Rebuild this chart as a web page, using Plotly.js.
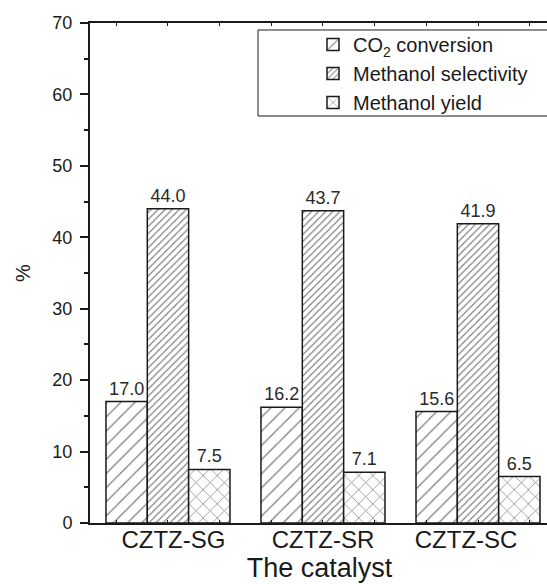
<!DOCTYPE html>
<html>
<head>
<meta charset="utf-8">
<script src="https://cdn.plot.ly/plotly-3.0.1.min.js"></script>
<style>
html, body { margin: 0; padding: 0; overflow: hidden; background: #fff; }
#chart { width: 560px; height: 584px; }
</style>
</head>
<body>
<div id="chart"></div>
<script>
const categories = ["CZTZ-SG", "CZTZ-SR", "CZTZ-SC"];
const co2Conversion = [17.0, 16.2, 15.6];
const methanolSelectivity = [44.0, 43.7, 41.9];
const methanolYield = [7.5, 7.1, 6.5];
const seriesNames = ["CO<sub>2</sub> conversion", "Methanol selectivity", "Methanol yield"];
const yTicks = [0, 10, 20, 30, 40, 50, 60, 70];

const FONT = "Liberation Sans, Arial, Helvetica, sans-serif";
const INK = "#1a1a1a";
const xIdx = categories.map((c, i) => i);
const labelShift = [0.035, 0, -0.077];

function barTrace(name, values, shape, size, solidity) {
  return {
    type: "bar",
    name: name,
    x: xIdx,
    y: values,
    texttemplate: "%{y:.1f}",
    textposition: "outside",
    cliponaxis: false,
    textfont: { family: FONT, size: 18, color: "#2a2a2a" },
    marker: {
      color: "white",
      line: { color: INK, width: 1.5 },
      pattern: { shape: shape, size: size, solidity: solidity, fgcolor: "#000", bgcolor: "white", fillmode: "overlay" }
    },
    hoverinfo: "skip"
  };
}

const data = [
  barTrace(seriesNames[0], co2Conversion, "/", 10, 0.13),
  barTrace(seriesNames[1], methanolSelectivity, "/", 5, 0.24),
  barTrace(seriesNames[2], methanolYield, "x", 10, 0.14)
];

const plotLeft = 90, plotRight = 549, plotTop = 23, plotBottom = 523;
const pxX = v => (v - plotLeft) / (plotRight - plotLeft);
const pxY = v => (plotBottom - v) / (plotBottom - plotTop);

const layout = {
  width: 560,
  height: 584,
  margin: { l: plotLeft, r: 560 - plotRight, t: plotTop, b: 584 - plotBottom, pad: 0 },
  paper_bgcolor: "white",
  plot_bgcolor: "white",
  barmode: "group",
  bargap: 0.2,
  bargroupgap: 0,
  font: { family: FONT, color: INK },
  showlegend: true,
  legend: {
    x: pxX(313), y: pxY(25), xanchor: "left", yanchor: "top",
    bgcolor: "rgba(0,0,0,0)", borderwidth: 0,
    font: { family: FONT, size: 20, color: INK },
    tracegroupgap: 0
  },
  xaxis: {
    range: [-0.503, 2.458],
    tickvals: xIdx.map((i) => i + labelShift[i]),
    ticktext: categories,
    ticks: "",
    tickfont: { family: FONT, size: 24, color: INK },
    ticklabelstandoff: -6,
    showgrid: false,
    zeroline: false,
    showline: true,
    linecolor: INK,
    linewidth: 2,
    mirror: "ticks",
    minor: { dtick: 1 / 3, tick0: 0, ticks: "inside", ticklen: 3, tickwidth: 1, tickcolor: INK },
    title: { text: "The catalyst", font: { family: FONT, size: 27, color: INK }, standoff: 4 },
    automargin: false
  },
  yaxis: {
    range: [0, 70],
    tickvals: yTicks,
    ticks: "outside",
    ticklen: 8,
    tickwidth: 2,
    tickcolor: INK,
    tickfont: { family: FONT, size: 18, color: INK },
    ticklabelstandoff: 4,
    minor: { dtick: 5, ticks: "outside", ticklen: 4, tickwidth: 2, tickcolor: INK },
    showgrid: false,
    zeroline: false,
    showline: true,
    linecolor: INK,
    linewidth: 2,
    title: { text: "%", font: { family: FONT, size: 20, color: INK }, standoff: 16 },
    automargin: false
  },
  shapes: [{
    type: "rect", xref: "paper", yref: "paper",
    x0: pxX(258), x1: pxX(575), y0: pxY(116), y1: pxY(30),
    line: { color: INK, width: 1 }, fillcolor: "rgba(0,0,0,0)", layer: "above"
  }]
};

Plotly.newPlot("chart", data, layout, { displayModeBar: false, staticPlot: true });
</script>
</body>
</html>
